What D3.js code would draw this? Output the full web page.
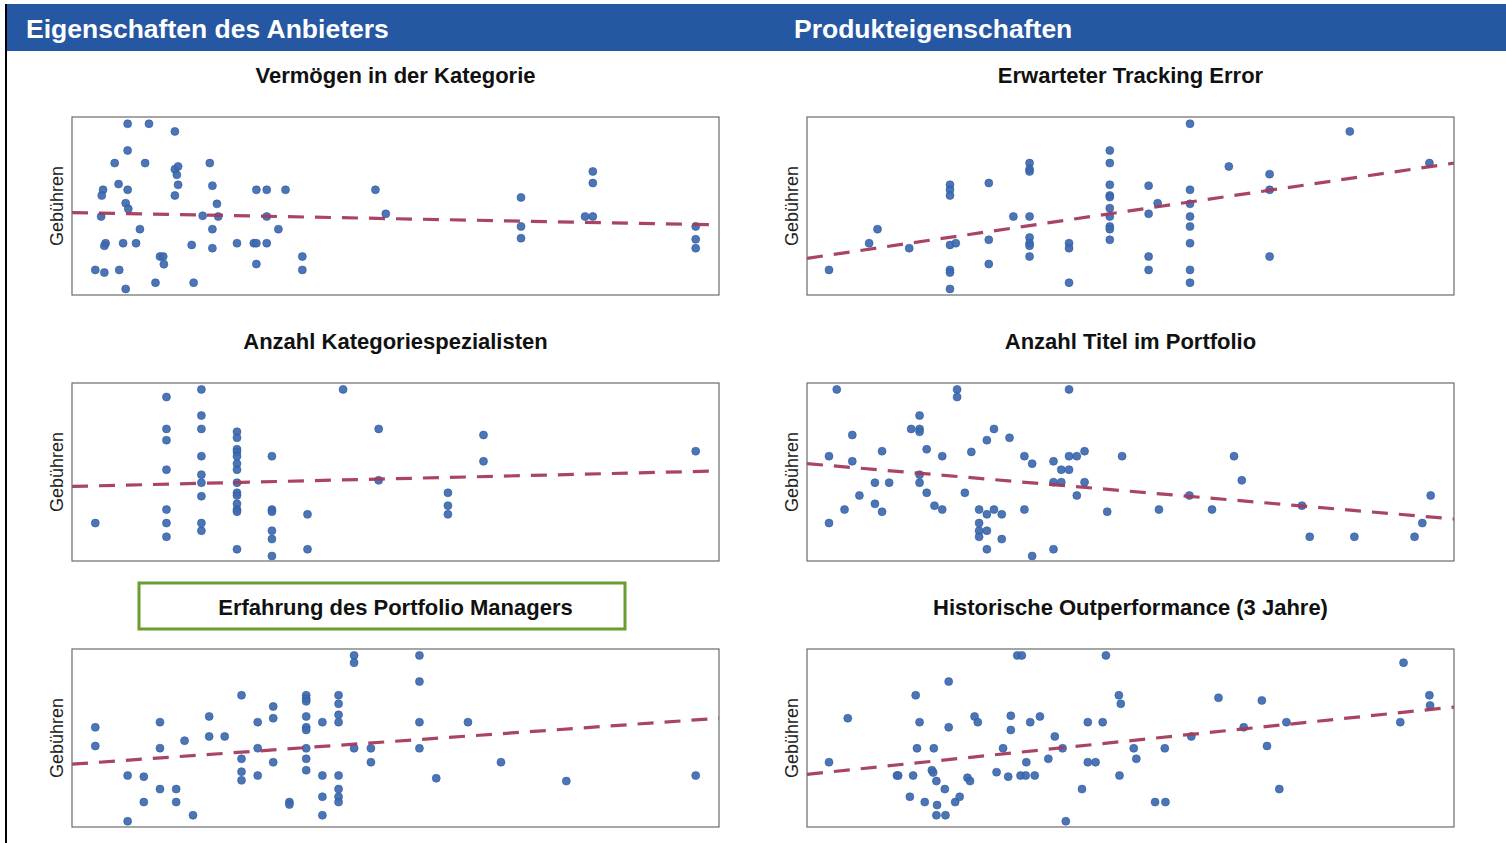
<!DOCTYPE html>
<html><head><meta charset="utf-8">
<script src="https://cdn.jsdelivr.net/npm/d3@7"></script>
<style>
html,body{margin:0;padding:0;background:#fff;}
svg{display:block;font-family:"Liberation Sans",Arial,sans-serif;}
</style></head>
<body>
<svg id="chart" width="1506" height="843"></svg>
<script>
// ---- data (normalised 0-100 index scales) ----
const sectionTitles = ["Eigenschaften des Anbieters", "Produkteigenschaften"];
const panelTitles = ["Vermögen in der Kategorie", "Erwarteter Tracking Error",
  "Anzahl Kategoriespezialisten", "Anzahl Titel im Portfolio",
  "Erfahrung des Portfolio Managers", "Historische Outperformance (3 Jahre)"];
const yLabel = "Gebühren";
const highlighted = "Erfahrung des Portfolio Managers";

const vermoegen = [[8.6,96.2],[11.9,96.2],[15.9,91.9],[8.6,81.2],[6.6,74.1],[11.3,74.1],[15.9,70.7],[16.4,72.2],[16.2,67.5],[21.3,74.1],
 [7.2,62.3],[4.8,59.1],[4.6,55.9],[8.6,59.1],[16.4,61.9],[15.9,55.9],[21.7,61.4],[28.5,59.1],[30.1,59.1],[33.0,59.1],[46.9,59.1],
 [8.3,51.6],[8.7,48.4],[22.4,51.2],[4.5,44.1],[20.2,44.5],[22.6,44.1],[30.1,44.1],[48.5,45.6],[69.4,54.8],[80.5,69.4],[80.5,62.9],
 [79.3,44.1],[80.5,44.1],[10.5,37.0],[21.7,37.0],[31.9,37.0],[69.4,38.5],[96.4,38.5],[5.2,29.1],[5.0,27.6],[7.9,29.1],[9.9,29.1],
 [18.5,28.1],[21.7,26.3],[25.5,29.1],[28.1,29.1],[28.5,29.1],[30.1,29.1],[69.4,31.9],[96.4,31.3],[96.4,26.3],[13.6,21.6],[14.1,21.6],
 [14.2,17.3],[28.5,17.4],[35.6,21.6],[3.6,14.1],[5.0,12.6],[7.3,14.1],[35.6,14.1],[12.9,6.9],[18.8,6.9],[8.3,3.4]];
const trackingError = [[3.4,14.1],[9.6,29.1],[10.9,37.0],[15.8,26.3],[22.1,61.9],[22.1,59.1],[22.1,55.9],[22.1,28.1],[23.0,29.1],
 [22.1,14.1],[22.1,12.6],[22.1,3.4],[28.1,62.9],[28.1,31.0],[28.1,17.4],[31.9,44.1],[34.4,74.1],[34.4,70.7],[34.4,69.4],[34.4,44.1],
 [34.4,32.3],[34.4,29.1],[34.4,27.6],[34.4,21.6],[40.5,29.1],[40.5,26.3],[40.5,6.9],[46.8,81.2],[46.8,74.1],[46.8,61.9],[46.8,55.9],
 [46.8,55.0],[46.8,48.8],[46.8,44.1],[46.8,38.5],[46.8,37.0],[46.8,31.0],[52.8,61.4],[52.8,45.6],[54.2,51.6],[52.8,21.6],[52.8,14.1],
 [59.2,96.2],[59.2,59.1],[59.2,51.2],[59.2,44.1],[59.2,38.5],[59.2,29.1],[59.2,14.1],[59.2,6.9],[65.2,72.2],[71.5,67.9],[71.5,59.1],
 [71.5,21.6],[83.9,91.9],[96.2,74.1]];
const spezialisten = [[3.6,21.3],[14.6,92.1],[14.6,74.2],[14.6,67.9],[14.6,51.3],[14.6,28.9],[14.6,21.3],[14.6,13.6],[20.0,96.4],
 [20.0,81.7],[20.0,74.2],[20.0,58.9],[20.0,48.5],[20.0,44.0],[20.0,36.4],[20.0,21.3],[20.0,17.0],[25.5,72.6],[25.5,69.2],[25.5,62.8],
 [25.5,61.3],[25.5,58.9],[25.5,54.7],[25.5,51.3],[25.5,44.0],[25.5,38.3],[25.5,36.8],[25.5,32.1],[25.5,28.9],[25.5,27.7],[25.5,6.6],
 [30.9,58.9],[30.9,28.9],[30.9,27.7],[30.9,17.0],[30.9,12.3],[30.9,2.8],[36.4,26.2],[36.4,6.6],[41.9,96.4],[47.4,74.2],[47.4,45.3],
 [58.1,38.3],[58.1,31.1],[58.1,26.2],[63.6,70.8],[63.6,56.0],[96.4,61.7]];
const titelAnzahl = [[4.6,96.4],[23.2,96.4],[23.2,92.1],[40.5,96.4],[17.4,81.7],[16.1,74.2],[17.4,74.2],[17.4,72.6],[7.0,70.8],
 [28.9,74.2],[27.8,67.9],[31.3,69.2],[3.4,58.9],[7.0,56.0],[11.6,61.7],[18.5,62.8],[20.9,58.9],[25.4,61.3],[33.6,58.9],[34.8,54.7],
 [38.1,56.0],[40.5,58.9],[41.7,58.9],[42.9,61.7],[48.7,58.9],[66.0,58.9],[17.4,48.5],[17.4,44.0],[10.5,44.0],[12.7,44.0],[39.3,51.3],
 [40.5,51.3],[38.1,44.3],[39.3,44.3],[42.9,44.3],[67.2,45.3],[8.1,36.8],[18.5,38.3],[24.4,38.3],[41.7,36.8],[59.1,36.8],[96.4,36.8],
 [5.8,28.9],[10.5,32.1],[11.6,27.7],[19.7,31.1],[20.9,28.9],[26.6,28.9],[27.8,26.2],[28.9,28.9],[30.1,26.2],[33.6,28.9],[46.4,27.7],
 [54.4,28.9],[62.6,28.9],[76.5,31.1],[3.4,21.3],[26.6,21.3],[26.6,17.0],[27.8,17.0],[26.6,13.6],[30.1,12.3],[27.8,6.6],[34.8,2.8],
 [38.1,6.6],[77.7,13.6],[84.6,13.6],[93.9,13.6],[95.1,21.3]];
const erfahrung = [[3.6,56.0],[3.6,45.5],[8.6,28.9],[11.1,28.3],[8.6,3.2],[11.1,14.0],[13.6,58.9],[13.6,44.3],[13.6,21.3],[16.1,21.3],
 [16.1,14.0],[17.4,48.5],[18.7,6.6],[21.2,62.1],[21.2,50.9],[23.6,50.9],[26.2,74.0],[26.2,38.3],[26.2,31.1],[26.2,26.2],[28.7,58.9],
 [28.7,44.3],[28.7,28.9],[31.1,67.7],[31.1,61.1],[31.1,36.4],[33.6,14.0],[33.6,12.6],[36.2,74.0],[36.2,72.1],[36.2,70.6],[36.2,62.1],
 [36.2,56.0],[36.2,54.5],[36.2,44.2],[36.2,38.3],[36.2,31.9],[38.7,58.9],[38.7,28.9],[38.7,17.0],[38.7,6.6],[41.2,74.0],[41.2,69.2],
 [41.2,63.0],[41.2,58.9],[41.2,28.9],[41.2,21.3],[41.2,17.0],[41.2,14.0],[43.6,96.4],[43.6,92.3],[43.6,44.2],[46.2,44.2],[46.2,36.4],
 [53.7,96.4],[53.7,81.7],[53.7,58.9],[53.7,44.2],[56.3,27.4],[61.2,58.9],[66.3,36.4],[76.4,25.8],[96.4,28.9]];
const outperformance = [[3.4,36.4],[6.3,61.1],[13.9,28.9],[14.1,28.9],[15.9,17.0],[16.4,28.9],[16.8,74.0],[17.4,58.9],[17.0,44.2],
 [18.2,14.0],[19.3,31.9],[19.5,30.6],[19.6,44.2],[20.0,25.8],[20.1,12.3],[20.0,6.6],[21.3,21.3],[21.4,6.6],[21.9,81.7],[21.9,56.0],
 [22.9,14.0],[23.6,17.0],[24.8,27.7],[25.2,25.8],[25.9,62.1],[26.4,58.9],[29.3,30.8],[30.3,44.2],[31.1,28.3],[31.5,54.5],[31.5,62.5],
 [32.5,96.4],[33.2,96.4],[33.0,28.9],[33.8,28.9],[33.9,36.4],[34.5,58.9],[35.2,28.9],[36.0,62.1],[37.3,38.3],[38.3,50.9],[39.5,44.2],
 [40.0,3.2],[42.5,21.3],[43.4,58.9],[43.4,36.4],[44.6,36.4],[45.7,58.9],[46.2,96.4],[48.2,74.0],[48.5,69.2],[48.3,28.9],[50.5,44.2],
 [50.9,38.3],[53.8,14.0],[55.4,14.0],[55.3,44.2],[59.4,50.9],[63.6,72.6],[67.5,56.0],[70.3,71.1],[71.1,45.5],[73.0,21.3],[74.1,58.9],
 [91.7,58.9],[92.2,92.3],[96.2,74.0],[96.3,68.3]];
// fitted trend values at x = 0 and x = 100
const trendX = [0, 100];
const trends = [[46.3,39.4],[20.6,74.1],[41.9,50.6],[54.7,23.6],[35.3,61.1],[29.6,67.4]];
const panelData = [vermoegen, trackingError, spezialisten, titelAnzahl, erfahrung, outperformance];

// ---- layout ----
const svg = d3.select("#chart");
const W = 1506, H = 843;
const headerTop = 4, headerH = 47;
const colLeft = [72, 807], plotW = 647;
const rowTop = [117, 383, 649], plotH = 178;
const titleBase = [83, 349, 615];
const blue = "#2557A3", dotFill = "#3D69B0", dotStroke = "#2E5A9F", lineColor = "#A43A5D", frameColor = "#6b6b6b";

// left border line
svg.append("line").attr("x1", 6).attr("x2", 6).attr("y1", headerTop).attr("y2", H)
  .attr("stroke", "#000").attr("stroke-width", 2);
// header band
svg.append("rect").attr("x", 7).attr("y", headerTop).attr("width", W - 7).attr("height", headerH).attr("fill", blue);
const headerX = [26, 794];
sectionTitles.forEach((t, i) => {
  svg.append("text").attr("x", headerX[i]).attr("y", 38).attr("fill", "#fff")
    .attr("font-size", 26.5).attr("font-weight", "bold").text(t);
});

panelData.forEach((data, i) => {
  const col = i % 2, row = Math.floor(i / 2);
  const x0 = colLeft[col], y0 = rowTop[row];
  const x = d3.scaleLinear().domain([0, 100]).range([x0, x0 + plotW]);
  const y = d3.scaleLinear().domain([0, 100]).range([y0 + plotH, y0]);
  const g = svg.append("g");
  const cx = x0 + plotW / 2;

  if (panelTitles[i] === highlighted) {
    g.append("rect").attr("x", 139).attr("y", 583).attr("width", 486).attr("height", 46)
      .attr("fill", "#fff").attr("stroke", "#6A9C2F").attr("stroke-width", 3);
  }
  g.append("text").attr("x", cx).attr("y", titleBase[row]).attr("text-anchor", "middle")
    .attr("font-size", 22).attr("font-weight", "bold").attr("fill", "#111").text(panelTitles[i]);

  g.append("text").attr("transform", `translate(${x0 - 9},${y0 + plotH / 2}) rotate(-90)`)
    .attr("text-anchor", "middle").attr("font-size", 18).attr("fill", "#222").text(yLabel);

  const clipId = "clip" + i;
  svg.append("clipPath").attr("id", clipId).append("rect")
    .attr("x", x0).attr("y", y0).attr("width", plotW).attr("height", plotH);

  g.append("g").attr("clip-path", `url(#${clipId})`).selectAll("circle").data(data).join("circle")
    .attr("cx", d => x(d[0])).attr("cy", d => y(d[1])).attr("r", 4)
    .attr("fill", dotFill).attr("fill-opacity", 0.92).attr("stroke", dotStroke).attr("stroke-width", 0.6);

  const line = d3.line().x(d => x(d[0])).y(d => y(d[1]));
  g.append("path").attr("clip-path", `url(#${clipId})`)
    .datum(trendX.map((tx, k) => [tx, trends[i][k]]))
    .attr("d", line).attr("fill", "none").attr("stroke", lineColor).attr("stroke-width", 3.2)
    .attr("stroke-dasharray", "16,11").attr("opacity", 0.95);

  g.append("rect").attr("x", x0).attr("y", y0).attr("width", plotW).attr("height", plotH)
    .attr("fill", "none").attr("stroke", frameColor).attr("stroke-width", 1.2);
});
</script>
</body></html>
